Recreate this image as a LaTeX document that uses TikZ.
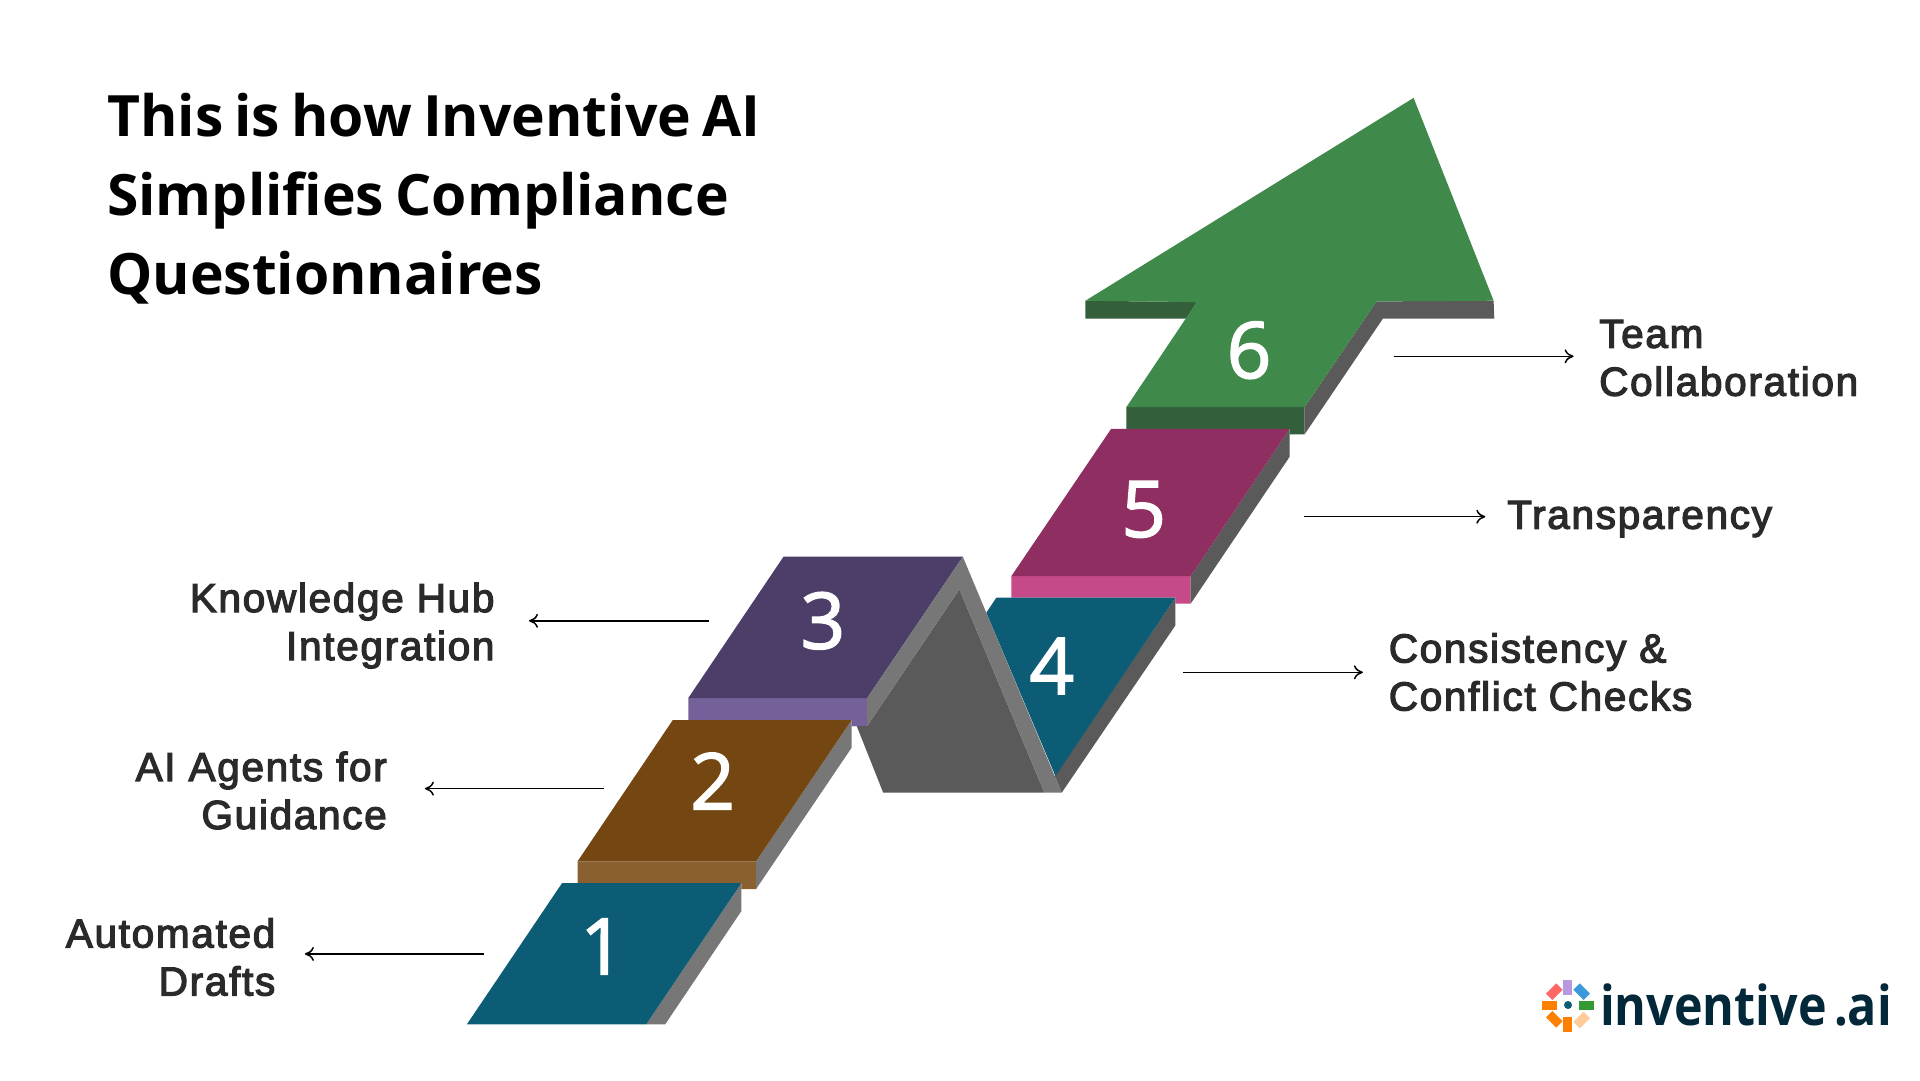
\documentclass[tikz,border=0pt]{standalone}
\usepackage{fontspec}
\usepackage{tikz}
\usetikzlibrary{arrows}
\usetikzlibrary{arrows.meta}
\usetikzlibrary{calc,positioning}
\setmainfont{Liberation Sans}[FakeBold=3,LetterSpace=4.2]
\newfontfamily\titlefont{Open Sans}
\newfontfamily\digitfont{Open Sans}[FakeBold=2]
\newfontfamily\logofont{Open Sans}[WordSpace=0.6]
\newcommand{\titlestyle}{\titlefont\fontsize{57}{79}\selectfont\bfseries\spaceskip 11.2pt\relax}
\definecolor{tealtop}{HTML}{0D5C76}
\definecolor{browntop}{HTML}{744712}
\definecolor{brownfront}{HTML}{8A6030}
\definecolor{purpletop}{HTML}{4C3E69}
\definecolor{purplefront}{HTML}{75619A}
\definecolor{plumtop}{HTML}{8F2E60}
\definecolor{plumfront}{HTML}{C64A8A}
\definecolor{greentop}{HTML}{3F8A4B}
\definecolor{greenfront}{HTML}{33603A}
\definecolor{sidelight}{HTML}{777777}
\definecolor{sidedark}{HTML}{5A5A5A}
\definecolor{labeltext}{HTML}{2A2A2A}
\definecolor{logotext}{HTML}{03283A}
\begin{document}
\begin{tikzpicture}[x=1pt, y=-1pt,
	digit/.style={text=white, font=\digitfont\fontsize{78}{78}\selectfont},
	label/.style={text=labeltext, inner sep=0pt, font=\fontsize{40.5}{48}\selectfont},
	labelr/.style={label, anchor=west, align=left},
	labell/.style={label, anchor=east, align=right},
	link/.style={draw=black, line width=1.5pt, -{To[length=9pt,width=14pt]}},
	petal/.style={minimum width=9pt, minimum height=14.5pt, inner sep=0pt, outer sep=0pt}]
	\useasboundingbox (0,0) rectangle (1920,1080);
	\fill[white] (0,0) rectangle (1920,1080);

	\node[anchor=west, align=left, inner sep=0pt, font=\titlestyle] (title) at (107,199) {This is how Inventive AI\\Simplifies Compliance\\Questionnaires};

	\fill[sidelight] (741.4,883) -- (741.4,911) -- (665.2,1024.3) -- (646.2,1024.3) -- cycle;
	\fill[brownfront] (577.6,861.3) -- (756.1,861.3) -- (756.1,889) -- (741.4,889) -- (741.4,883) -- (577.6,883) -- cycle;
	\fill[tealtop] (466.9,1024.3) -- (646.2,1024.3) -- (741.4,883) -- (562.1,883) -- cycle;

	\fill[sidelight] (851.6,720) -- (851.6,747.7) -- (756.1,889) -- (756.1,861.3) -- cycle;
	\fill[purplefront] (688.3,698) -- (867.2,698) -- (867.2,726) -- (851.6,726) -- (851.6,720) -- (688.3,720) -- cycle;
	\fill[browntop] (577.6,861.3) -- (756.1,861.3) -- (851.6,720) -- (672.8,720) -- cycle;
	\fill[purpletop] (688.3,698) -- (867.2,698) -- (962.8,556.7) -- (783.5,556.7) -- cycle;

	\fill[plumfront] (1011.4,576.1) -- (1190.7,576.1) -- (1190.7,603.6) -- (1175.4,603.6) -- (1175.4,597.5) -- (1011.4,597.5) -- cycle;
	\fill[sidedark] (1175.4,597.5) -- (1175.4,625.4) -- (1061.7,792.7) -- (1054.7,776) -- cycle;
	\fill[tealtop] (996.4,597.5) -- (1175.4,597.5) -- (1055.4,776) -- (986.3,612.7) -- cycle;
	\fill[sidedark] (851.3,726) -- (867.2,726) -- (959.4,589.3) -- (1044.4,792.7) -- (883.2,792.7) -- (856.7,726) -- cycle;
	\fill[sidelight] (867.2,698) -- (962.8,556.7) -- (1061.7,792.7) -- (1044.4,792.7) -- (959.4,589.3) -- (867.2,726) -- cycle;

	\fill[sidedark] (1289.6,428.9) -- (1289.6,456.8) -- (1190.7,603.6) -- (1190.7,576.1) -- cycle;
	\fill[greenfront] (1126.4,407.1) -- (1304.6,407.1) -- (1304.6,434.3) -- (1289.6,434.3) -- (1289.6,428.9) -- (1126.4,428.9) -- cycle;
	\fill[plumtop] (1011.4,576.1) -- (1190.7,576.1) -- (1289.6,428.9) -- (1111.1,428.9) -- cycle;

	\fill[sidedark] (1304.6,407.1) -- (1304.6,434.3) -- (1382.9,318.6) -- (1494.3,318.6) -- (1493.6,300.7) -- (1376.4,301.4) -- cycle;
	\fill[greenfront] (1085.4,300.7) -- (1085.4,318.6) -- (1186,318.6) -- (1196.8,302.1) -- cycle;
	\fill[greentop] (1413.6,97.9) -- (1493.6,300.7) -- (1376.4,301.4) -- (1304.6,407.1) -- (1126.4,407.1) -- (1196.8,302.1) -- (1085.4,300.7) -- cycle;

	\node[digit] (d1) at (602.5,946.5) {1};
	\node[digit] (d2) at (712.7,781) {2};
	\node[digit] (d3) at (822.9,620.8) {3};
	\node[digit] (d4) at (1051.9,666) {4};
	\node[digit] (d5) at (1143.7,509.4) {5};
	\node[digit] (d6) at (1249,350.2) {6};

	\node[labell] (drafts) at (275.5,957) {Automated\\Drafts};
	\node[labell] (agents) at (387,790.5) {AI Agents for\\Guidance};
	\node[labell] (hub) at (494.7,625.6) {Knowledge Hub\\Integration};
	\node[labelr] (checks) at (1388.6,672) {Consistency \&\\Conflict Checks};
	\node[labelr] (clarity) at (1507,519) {Transparency};
	\node[labelr] (team) at (1599,358) {Team\\Collaboration};

	\coordinate (a1) at (483.7,953.9);
	\coordinate (b1) at (304.9,953.9);
	\coordinate (a2) at (603.7,788.6);
	\coordinate (b2) at (424.9,788.6);
	\coordinate (a3) at (709,620.8);
	\coordinate (b3) at (529,620.8);
	\coordinate (a4) at (1182.9,672.3);
	\coordinate (b4) at (1362.9,672.3);
	\coordinate (a5) at (1304.1,516.7);
	\coordinate (b5) at (1485.3,516.7);
	\coordinate (a6) at (1393.5,356.3);
	\coordinate (b6) at (1573.6,356.3);
	\draw[link] (a1) -- (b1);
	\draw[link] (a2) -- (b2);
	\draw[link] (a3) -- (b3);
	\draw[link] (a4) -- (b4);
	\draw[link] (a5) -- (b5);
	\draw[link] (a6) -- (b6);

	\node[petal, fill=purple!40!blue!40] (p1) at (1567.8,987.5) {};
	\node[petal, fill=green!50!black!80, rotate=90] (p2) at (1586.3,1005.8) {};
	\node[petal, fill=orange] (p3) at (1567.8,1024.5) {};
	\node[petal, fill=orange, rotate=90] (p4) at (1549.5,1005.8) {};
	\node[petal, fill=cyan!70!blue!80, rotate=45] (p5) at (1581.7,991.7) {};
	\node[petal, fill=red!60, rotate=-45] (p6) at (1554.3,991.7) {};
	\node[petal, fill=orange, rotate=45] (p7) at (1554.3,1019.3) {};
	\node[petal, fill=orange!40, rotate=-45] (p8) at (1581.7,1020) {};
	\node[circle, fill=tealtop, minimum size=8pt, inner sep=0pt] (p9) at (1568,1005) {};
	\node[anchor=base west, inner sep=0pt, text=logotext, font=\logofont\fontsize{55}{55}\selectfont\bfseries] (logo) at (1600,1025) {\scalebox{0.88}[1]{inventive .ai}};
\end{tikzpicture}
\end{document}
